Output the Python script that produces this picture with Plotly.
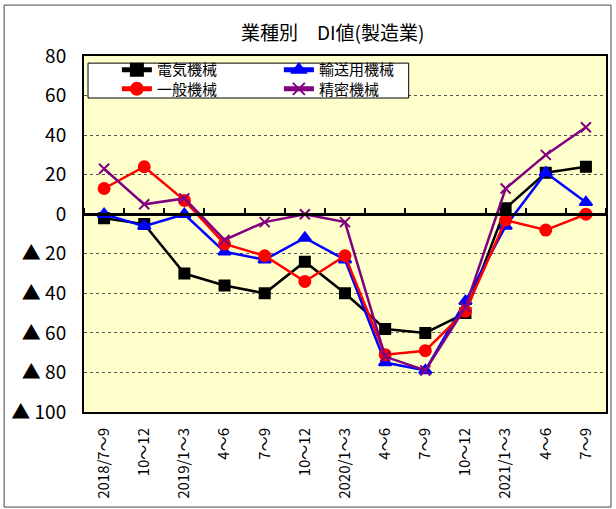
import plotly.graph_objects as go

quarters = ['2018/7～9', '10～12', '2019/1～3', '4～6', '7～9', '10～12',
            '2020/1～3', '4～6', '7～9', '10～12', '2021/1～3', '4～6', '7～9']
# category keys must be unique, so the axis uses an index and shows the labels
quarter_idx = list(range(len(quarters)))

denki = [-2, -5, -30, -36, -40, -24, -40, -58, -60, -50, 3, 21, 24]
yuso = [0, -6, 0, -19, -23, -12, -23, -75, -79, -44, -6, 21, 6]
ippan = [13, 24, 7, -15, -21, -34, -21, -71, -69, -49, -3, -8, 0]
seimitsu = [23, 5, 8, -13, -4, 0, -4, -72, -79, -47, 13, 30, 44]

y_ticks = [80, 60, 40, 20, 0, -20, -40, -60, -80, -100]
y_ticktext = ['80', '60', '40', '20', '0', '▲ 20', '▲ 40', '▲ 60', '▲ 80', '▲ 100']

FONT = 'Noto Sans CJK JP'

# name, values, colour, marker, size, legend row
series = [
    ('電気機械', denki, 'black', 'square', 10, 'legend'),
    ('輸送用機械', yuso, '#0000FF', 'triangle-up', 11, 'legend'),
    ('一般機械', ippan, '#FF0000', 'circle', 11, 'legend2'),
    ('精密機械', seimitsu, '#800080', 'x-thin-open', 10, 'legend2'),
]

fig = go.Figure()
for name, vals, color, symbol, size, leg in series:
    fig.add_trace(go.Scatter(
        x=quarter_idx, y=vals, name=name, mode='lines+markers', legend=leg,
        line=dict(color=color, width=2.5),
        marker=dict(symbol=symbol, size=size, color=color,
                    line=dict(color=color, width=2)),
    ))

# invisible trace so the crossing axis at y=0 gets drawn
fig.add_trace(go.Scatter(x=quarter_idx, y=[None] * len(quarters), xaxis='x2',
                         showlegend=False, hoverinfo='skip'))

y_min, y_max = -100, 80
zero_pos = (0 - y_min) / (y_max - y_min)

legend_row = dict(orientation='h', x=0.063, xanchor='left', yanchor='middle',
                  bgcolor='rgba(0,0,0,0)', borderwidth=0,
                  font=dict(size=15), entrywidth=117, entrywidthmode='pixels',
                  itemsizing='constant')

fig.update_layout(
    width=616, height=509,
    margin=dict(l=84, r=10, t=56, b=97, autoexpand=False),
    paper_bgcolor='white',
    plot_bgcolor='#FFFFCC',
    font=dict(family=FONT, color='black'),
    title=dict(text='業種別　DI値(製造業)', x=0.54, xanchor='center',
               y=1 - 33 / 509, yanchor='middle', font=dict(size=19)),
    showlegend=True,
    legend=dict(legend_row, y=0.961),
    legend2=dict(legend_row, y=0.907),
    xaxis=dict(type='category', range=[-0.5, 12.5],
               tickmode='array', tickvals=quarter_idx, ticktext=quarters,
               tickangle=-90, tickfont=dict(size=15), ticks='',
               ticklabelstandoff=8,
               showgrid=False, zeroline=False,
               showline=True, linecolor='black', linewidth=2, mirror=True),
    xaxis2=dict(type='category', overlaying='x', anchor='free', position=zero_pos,
                side='top', range=[-0.5, 12.5], tickmode='array', tickvals=quarter_idx,
                tickson='boundaries', ticks='outside', ticklen=5, tickwidth=2,
                tickcolor='black', showticklabels=False, showgrid=False,
                zeroline=False, showline=True, linecolor='black', linewidth=2.5),
    yaxis=dict(range=[y_min, y_max], tickmode='array', tickvals=y_ticks,
               ticktext=y_ticktext, tickfont=dict(size=19), ticks='',
               ticklabelstandoff=12,
               showgrid=True, gridcolor='#555555', gridwidth=1, griddash='dot',
               zeroline=False,
               showline=True, linecolor='black', linewidth=2, mirror=True),
    shapes=[
        # outer chart frame
        dict(type='rect', xref='paper', yref='paper',
             x0=-0.153, x1=1.0096, y0=-0.267, y1=1.143,
             line=dict(color='#444444', width=1), layer='below'),
        # box behind the two legend rows
        dict(type='rect', xref='paper', yref='paper',
             x0=0.0077, x1=0.622, y0=0.882, y1=0.980,
             fillcolor='white', line=dict(color='black', width=1), layer='above'),
    ],
)

# drop the browser's default body margin so the figure sits at the page corner
fig.write_html('out.html', config={'displayModeBar': False},
               post_script="document.body.style.margin='0';")
